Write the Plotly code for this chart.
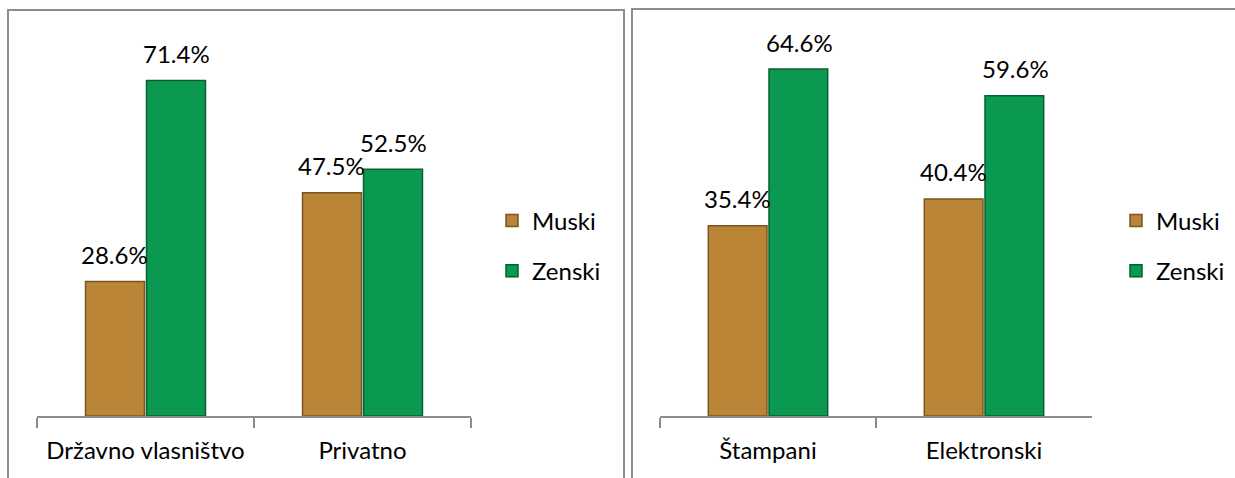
import plotly.graph_objects as go

# ---- data ----
left_categories = ["Državno vlasništvo", "Privatno"]
left_muski = [28.6, 47.5]
left_zenski = [71.4, 52.5]

right_categories = ["Štampani", "Elektronski"]
right_muski = [35.4, 40.4]
right_zenski = [64.6, 59.6]

series_names = ["Muski", "Zenski"]

# ---- styling ----
W, H = 1235, 478
FONT = "Lato"
FS = 24
COL_M = "#BA8536"
COL_Z = "#0B9850"
LINE_M = "#7A5520"
LINE_Z = "#06602F"
GREY = "#8C8C8C"


def px(x):
    return x / W


def py(y):
    return 1 - y / H


fig = go.Figure()

panels = [
    ("x", "y", "legend", left_categories, left_muski, left_zenski, 80),
    ("x2", "y2", "legend2", right_categories, right_muski, right_zenski, 70),
]

annotations = []
for xa, ya, lg, cats, muski, zenski, ymax in panels:
    for name, vals, col, lcol, grp in [
        (series_names[0], muski, COL_M, LINE_M, "m"),
        (series_names[1], zenski, COL_Z, LINE_Z, "z"),
    ]:
        fig.add_trace(go.Bar(
            x=cats, y=vals, name=name, xaxis=xa, yaxis=ya, legend=lg,
            legendgroup=grp + xa,
            marker=dict(color=col, line=dict(color=lcol, width=1.5)),
            hoverinfo="skip",
        ))
    for vals, shift in [(muski, -31), (zenski, 31)]:
        for c, v in zip(cats, vals):
            annotations.append(dict(
                x=c, y=v, xref=xa, yref=ya, text=f"{v:.1f}%",
                showarrow=False, xshift=shift, yshift=27,
                yanchor="middle", xanchor="center",
                font=dict(family=FONT, size=FS, color="#000000"),
            ))

xcommon = dict(
    type="category", showline=True, linecolor=GREY, linewidth=1.5,
    ticks="outside", tickson="boundaries", ticklen=10, tickcolor=GREY,
    tickwidth=1.5, showgrid=False, zeroline=False, ticklabelstandoff=12,
    tickfont=dict(family=FONT, size=FS, color="#000000"),
    range=[-0.5, 1.5], fixedrange=True,
)
ydom = [py(416), py(40)]

fig.update_layout(
    width=W, height=H,
    margin=dict(l=0, r=0, t=0, b=0),
    paper_bgcolor="white", plot_bgcolor="white",
    barmode="group", bargap=0.438, bargroupgap=0.033,
    font=dict(family=FONT, size=FS, color="#000000"),
    xaxis=dict(domain=[px(37), px(471)], anchor="y", **xcommon),
    xaxis2=dict(domain=[px(660), px(1092)], anchor="y2", **xcommon),
    yaxis=dict(domain=ydom, range=[0, 80], visible=False, anchor="x",
               fixedrange=True),
    yaxis2=dict(domain=ydom, range=[0, 70], visible=False, anchor="x2",
                fixedrange=True),
    legend=dict(x=px(492), y=py(246), xanchor="left", yanchor="middle",
                font=dict(family=FONT, size=FS), tracegroupgap=16,
                itemwidth=30,
                traceorder="grouped", bgcolor="rgba(0,0,0,0)"),
    legend2=dict(x=px(1116), y=py(246), xanchor="left", yanchor="middle",
                 font=dict(family=FONT, size=FS), tracegroupgap=16,
                 itemwidth=30,
                 traceorder="grouped", bgcolor="rgba(0,0,0,0)"),
    annotations=annotations,
    shapes=[
        dict(type="rect", xref="paper", yref="paper",
             x0=px(8), x1=px(624), y0=py(490), y1=py(10),
             line=dict(color=GREY, width=2), layer="below"),
        dict(type="rect", xref="paper", yref="paper",
             x0=px(632), x1=px(1250), y0=py(490), y1=py(9),
             line=dict(color=GREY, width=2), layer="below"),
    ],
    showlegend=True,
)

fig.write_html(
    "out.html",
    config={"displayModeBar": False},
    post_script="document.body.style.margin='0';document.body.style.overflow='hidden';",
)
